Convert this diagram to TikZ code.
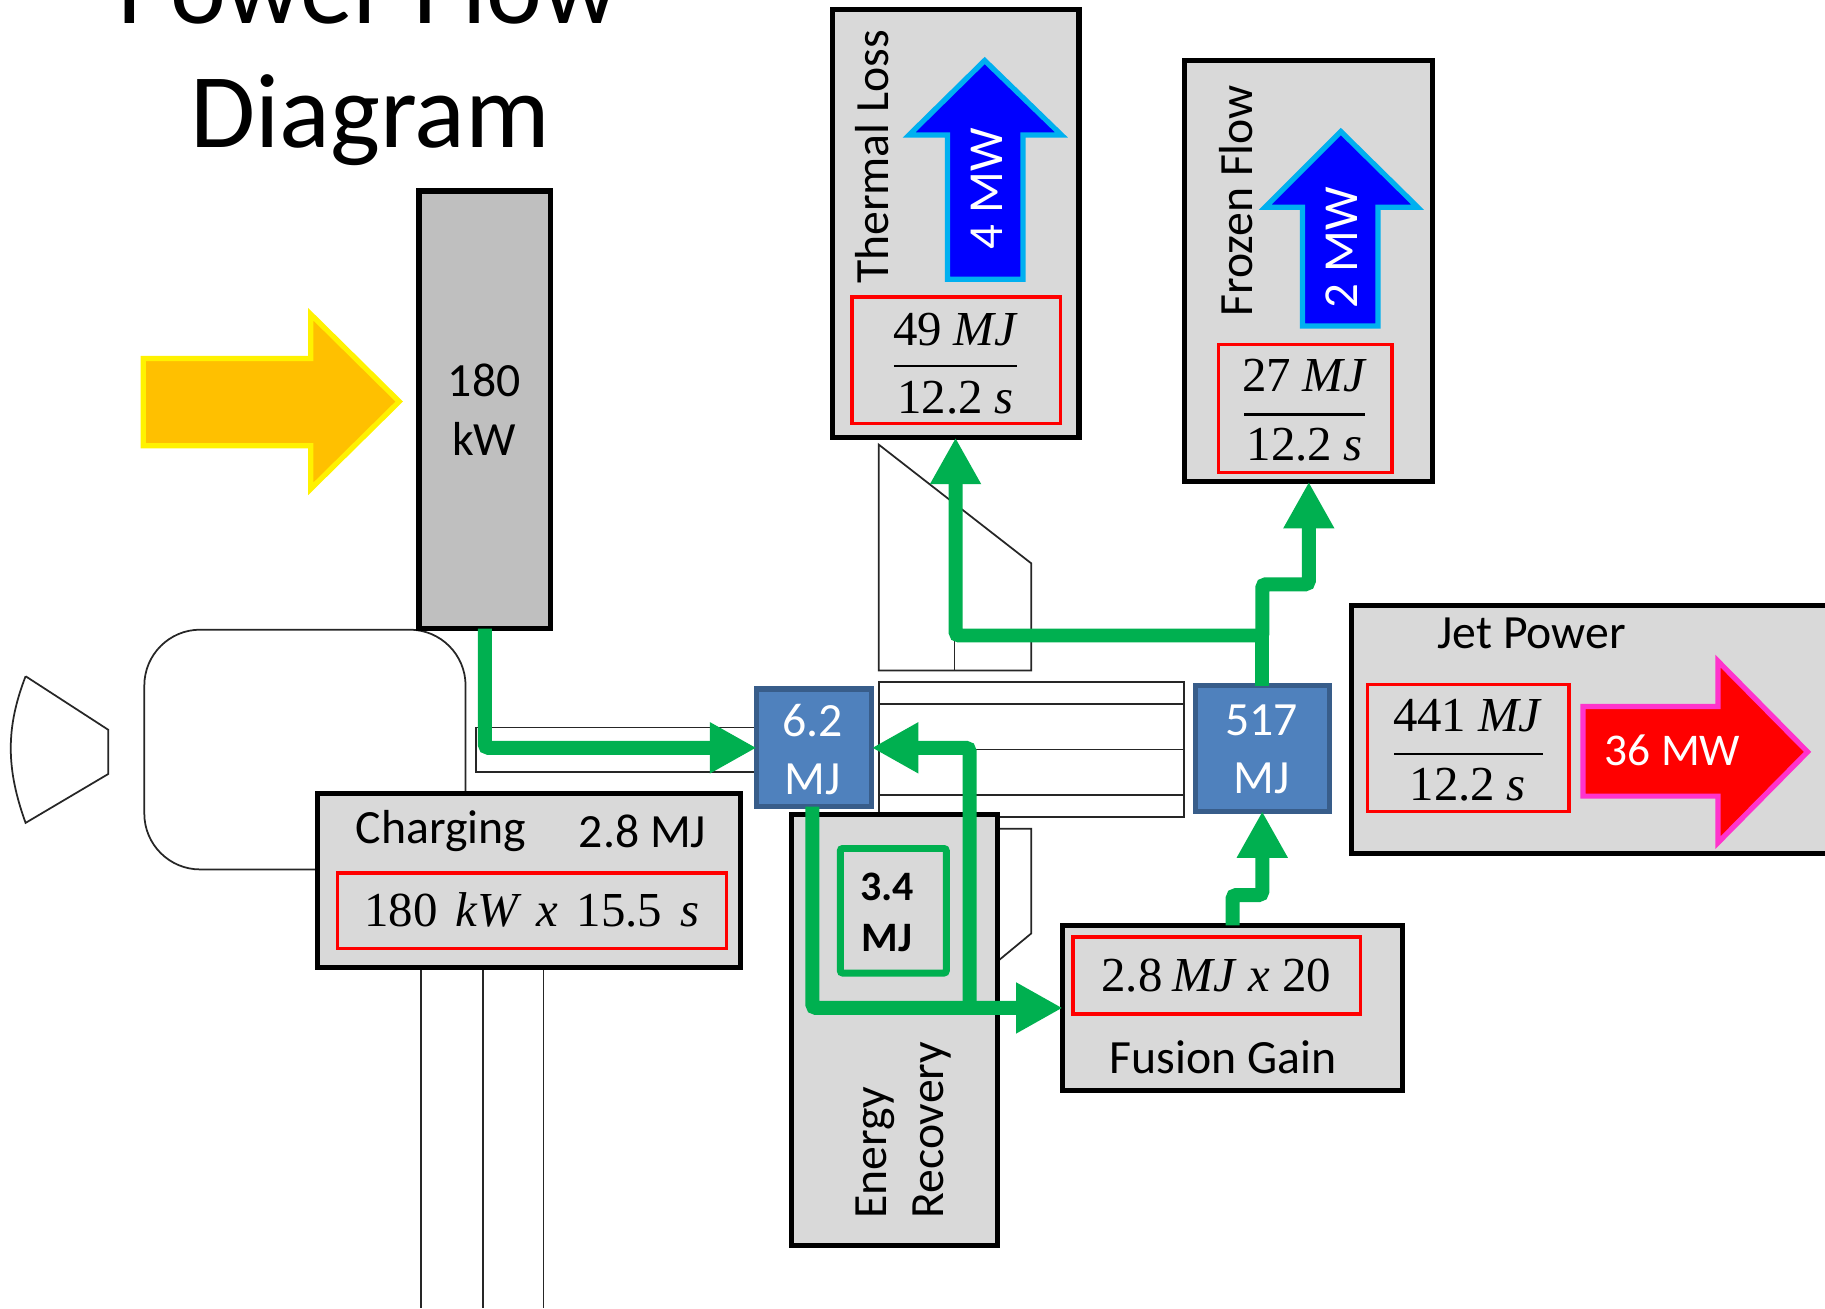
\documentclass[tikz,border=0pt]{standalone}
\usepackage{fontspec}
\usetikzlibrary{arrows.meta}
\newfontfamily\cb{Carlito}
\newfontfamily\cam[WordSpace=1.5]{Liberation Serif}
\newcommand{\fs}[2]{\fontsize{#1}{#2}\selectfont}
\definecolor{gbox}{HTML}{D9D9D9}
\definecolor{kwbox}{HTML}{BFBFBF}
\definecolor{bfill}{HTML}{4F81BD}
\definecolor{bline}{HTML}{385D8A}
\definecolor{flow}{HTML}{00B050}
\definecolor{amber}{HTML}{FFC000}
\definecolor{sky}{HTML}{00B0F0}
\definecolor{pinkline}{HTML}{FF33CC}
\tikzset{
  base/.style={inner sep=0pt,outer sep=0pt},
  thin line/.style={draw=black!85,line width=1.5pt},
  graybox/.style={base,draw=black,fill=gbox,line width=4.5pt},
  redbox/.style={base,draw=red,line width=3pt},
  bluebox/.style={base,draw=bline,fill=bfill,line width=4.5pt},
  cal/.style={base,font=\cb\fs{41}{50},align=center},
  calw/.style={cal,text=white},
  eqn/.style={base,font=\cam\fs{42}{48}},
  flowline/.style={draw=flow,line width=12pt,rounded corners=3pt},
  flowarrow/.style={flowline,-{Triangle[width=41pt,length=40pt]}},
}
\begin{document}
\begin{tikzpicture}[x=1pt,y=-1pt]
\useasboundingbox (0,0) rectangle (1568,1123.9);
\fill[white] (0,0) rectangle (1568,1123.9);
% title
\node[base,font=\cb\fs{91}{91},anchor=base] (title1) at (316,20) {Power Flow};
\node[base,font=\cb\fs{91}{91},anchor=base] (title2) at (318,127) {Diagram};
% thin background outline
\draw[thin line] (22,581) -- (93,627) -- (93,665) -- (22,707) .. controls (5,660) and (5,625) .. (22,581);
\draw[thin line,rounded corners=48pt] (124,541) rectangle (400,747);
\draw[thin line] (409,625) rectangle (650,663);
\draw[thin line] (362,830) -- (362,1124) (415,830) -- (415,1124) (467,830) -- (467,1124);
\draw[thin line] (755,382) -- (886,484) -- (886,576) -- (755,576) -- cycle;
\draw[thin line] (820,530) -- (820,576);
\draw[thin line] (755,586) rectangle (1017,702);
\draw[thin line] (755,605) -- (1017,605) (755,644) -- (1017,644) (755,683) -- (1017,683);
\draw[thin line] (857,712) -- (886,712) -- (886,802) -- (857,826);
\draw[thin line] (1143,618) -- (1143,668);
% input power
\draw[draw=yellow,fill=amber,line width=4.5pt] (123,308) -- (267,308) -- (267,270) -- (343,345) -- (267,420) -- (267,383) -- (123,383) -- cycle;
\node[base,draw=black,fill=kwbox,line width=4.5pt,minimum width=113pt,minimum height=376pt] (kw) at (416.5,352) {};
\node[cal] (kwt) at (416,352) {180\\kW};
% charging
\node[graybox,minimum width=363pt,minimum height=149pt] (charging) at (454.5,756.5) {};
\node[cal] (chargingt) at (379,714) {Charging};
\node[cal] (chargingv) at (552,714) {2.8 MJ};
\node[redbox,minimum width=334pt,minimum height=65pt] (chargingr) at (457,782.5) {};
\node[eqn] (chargingeq) at (457,782) {180 \textit{kW x} 15.5 \textit{s}};
% energy recovery
\node[graybox,minimum width=177pt,minimum height=370pt] (recovery) at (768.5,885) {};
\node[base,draw=flow,fill=gbox,line width=6pt,rounded corners=2pt,minimum width=91pt,minimum height=107pt] (stored) at (767.5,782.5) {};
\node[cal,font=\cb\bfseries\fs{36}{44}] (storedt) at (762,784) {3.4\\MJ};
\node[cal,rotate=90,anchor=west] (rec1) at (752,1047) {Energy};
\node[cal,rotate=90,anchor=west] (rec2) at (801,1047) {Recovery};
% fusion gain
\node[graybox,minimum width=292pt,minimum height=142pt] (fusion) at (1059,866) {};
\node[redbox,minimum width=247pt,minimum height=66pt] (fusionr) at (1045.5,838) {};
\node[eqn] (fusioneq) at (1045,838) {2.8\hspace{9pt}\textit{MJ}\hspace{10pt}\textit{x}\hspace{10pt}20};
\node[cal] (fusiont) at (1051,908) {Fusion Gain};
% thermal loss
\node[graybox,minimum width=212pt,minimum height=368pt] (thermal) at (821,192) {};
\node[cal,rotate=90,anchor=west] (thermalt) at (749,244) {Thermal Loss};
\draw[draw=sky,fill=blue,line width=4.5pt] (814,240) -- (814,116) -- (781,116) -- (846,52) -- (912,116) -- (879,116) -- (879,240) -- cycle;
\node[calw,rotate=90,font=\cb\fs{42}{44}] (thermalp) at (848,162) {4 MW};
\node[redbox,minimum width=179pt,minimum height=109pt] (thermalr) at (821.5,309.5) {};
\node[eqn] (thermaln) at (821,283) {49\hspace{10pt}\textit{MJ}};
\draw[line width=2pt] (768,314.5) -- (874,314.5);
\node[eqn] (thermald) at (821,342) {12.2\hspace{10pt}\textit{s}};
% frozen flow
\node[graybox,minimum width=213pt,minimum height=362pt] (frozen) at (1124.5,233) {};
\node[cal,rotate=90,anchor=west] (frozent) at (1062,272) {Frozen Flow};
\draw[draw=sky,fill=blue,line width=4.5pt] (1119,280) -- (1119,178) -- (1087,178) -- (1152,113) -- (1218,178) -- (1184,178) -- (1184,280) -- cycle;
\node[calw,rotate=90,font=\cb\fs{42}{44}] (frozenp) at (1153,213) {2 MW};
\node[redbox,minimum width=149pt,minimum height=110pt] (frozenr) at (1121.5,351) {};
\node[eqn] (frozenn) at (1121,323) {27\hspace{10pt}\textit{MJ}};
\draw[line width=2pt] (1069,356) -- (1173,356);
\node[eqn] (frozend) at (1121,382) {12.2\hspace{10pt}\textit{s}};
% jet power
\node[graybox,minimum width=420pt,minimum height=213pt] (jet) at (1371,626.5) {};
\node[cal] (jett) at (1316,544) {Jet Power};
\node[redbox,minimum width=173pt,minimum height=109pt] (jetr) at (1261.5,642.5) {};
\node[eqn] (jetn) at (1261,615) {441\hspace{10pt}\textit{MJ}};
\draw[line width=2pt] (1198,648) -- (1326,648);
\node[eqn] (jetd) at (1261,674) {12.2\hspace{10pt}\textit{s}};
\draw[draw=pinkline,fill=red,line width=4.5pt] (1360,607) -- (1476,607) -- (1476,568) -- (1553,646) -- (1476,724) -- (1476,684) -- (1360,684) -- cycle;
\node[calw,font=\cb\fs{39}{44}] (jetp) at (1437,645) {36 MW};
% energy nodes
\node[bluebox,minimum width=99pt,minimum height=101pt] (mja) at (699.5,642.5) {};
\node[calw] (mjat) at (698,644) {6.2\\MJ};
\node[bluebox,minimum width=115pt,minimum height=108pt] (mjb) at (1084.5,643) {};
\node[calw] (mjbt) at (1084,644) {517\\MJ};
% flows
\coordinate (branch) at (833,866);
\coordinate (junction) at (1084.5,546);
\draw[flowarrow] (kw.south) |- (mja.west);
\draw[flowarrow] (mja.south -| 698,0) |- (fusion.west);
\draw[flowarrow] (branch) |- (mja.east);
\draw[flowarrow] (fusion.north) -- ++(0,-26) -| (mjb.south);
\draw[flowline] (mjb.north) -- (junction);
\draw[flowarrow] (junction) -| (thermal.south);
\draw[flowarrow] (junction) -- ++(0,-44) -| (frozen.south);
\end{tikzpicture}
\end{document}
